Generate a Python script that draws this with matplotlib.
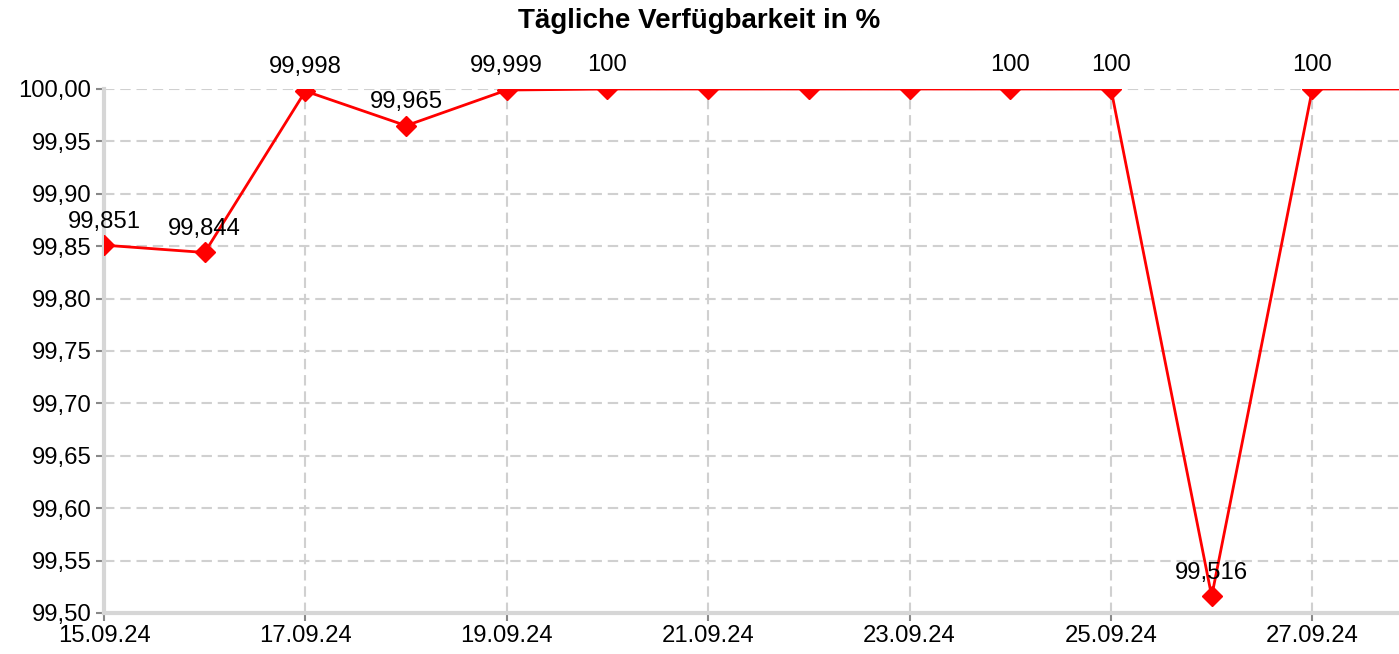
import datetime as dt
import matplotlib
matplotlib.use("Agg")
import matplotlib.pyplot as plt
from matplotlib.ticker import MultipleLocator, FuncFormatter

plt.rcParams['font.family'] = ['Liberation Sans', 'DejaVu Sans']

dates = ["15.09.24", "16.09.24", "17.09.24", "18.09.24", "19.09.24", "20.09.24",
         "21.09.24", "22.09.24", "23.09.24", "24.09.24", "25.09.24", "26.09.24",
         "27.09.24", "28.09.24"]
values = [99.851, 99.844, 99.998, 99.965, 99.999, 100, 100, 100, 100, 100, 100,
          99.516, 100, 100]
labels = ["99,851", "99,844", "99,998", "99,965", "99,999", "100", "", "", "",
          "100", "100", "99,516", "100", ""]
tick_dates = ["15.09.24", "17.09.24", "19.09.24", "21.09.24", "23.09.24",
              "25.09.24", "27.09.24"]

x = [dt.datetime.strptime(d, "%d.%m.%y") for d in dates]
xt = [dt.datetime.strptime(d, "%d.%m.%y") for d in tick_dates]

fig = plt.figure(figsize=(13.99, 6.54), dpi=100)
ax = fig.add_axes([104/1399, 1-613/654, 1-104/1399, (613-89)/654])

ax.plot(x, values, color='#ff0000', lw=2, marker='D', markersize=10,
        zorder=5, clip_on=True)

FS = 17.2
for xi, yi, lab in zip(x, values, labels):
    if lab:
        ax.annotate(lab, (xi, yi), xytext=(0, 17), textcoords='offset points',
                    ha='center', va='center', fontsize=FS, color='black',
                    annotation_clip=False, zorder=6)

ax.set_ylim(99.5, 100.0)
ax.set_xlim(x[0], x[0] + dt.timedelta(days=12.86))
ax.yaxis.set_major_locator(MultipleLocator(0.05))
ax.yaxis.set_major_formatter(FuncFormatter(lambda v, p: f"{v:.2f}".replace('.', ',')))
ax.set_xticks(xt)
ax.set_xticklabels(tick_dates)

ax.grid(True, color='#d0d0d0', linestyle=(0, (5, 2.8)), linewidth=1.5, zorder=0)
ax.set_axisbelow(True)

for s in ['top', 'right']:
    ax.spines[s].set_visible(False)
for s in ['left', 'bottom']:
    ax.spines[s].set_color('#d6d6d6')
    ax.spines[s].set_linewidth(3)
ax.axhline(99.5, color='#888888', linestyle=(0, (1, 3)), lw=1.5, zorder=2, clip_on=False)
ax.axvline(x[0], color='#888888', linestyle=(0, (1, 3)), lw=1.5, zorder=2, clip_on=False)

ax.tick_params(axis='both', colors='#888888', labelcolor='black', labelsize=FS,
               length=6, width=1.5, direction='out')
ax.tick_params(axis='x', pad=3)
ax.tick_params(axis='y', pad=3)

fig.suptitle("Tägliche Verfügbarkeit in %", fontsize=20, fontweight='bold',
             y=1-21/654, va='center')

fig.savefig("out.png", dpi=100)
